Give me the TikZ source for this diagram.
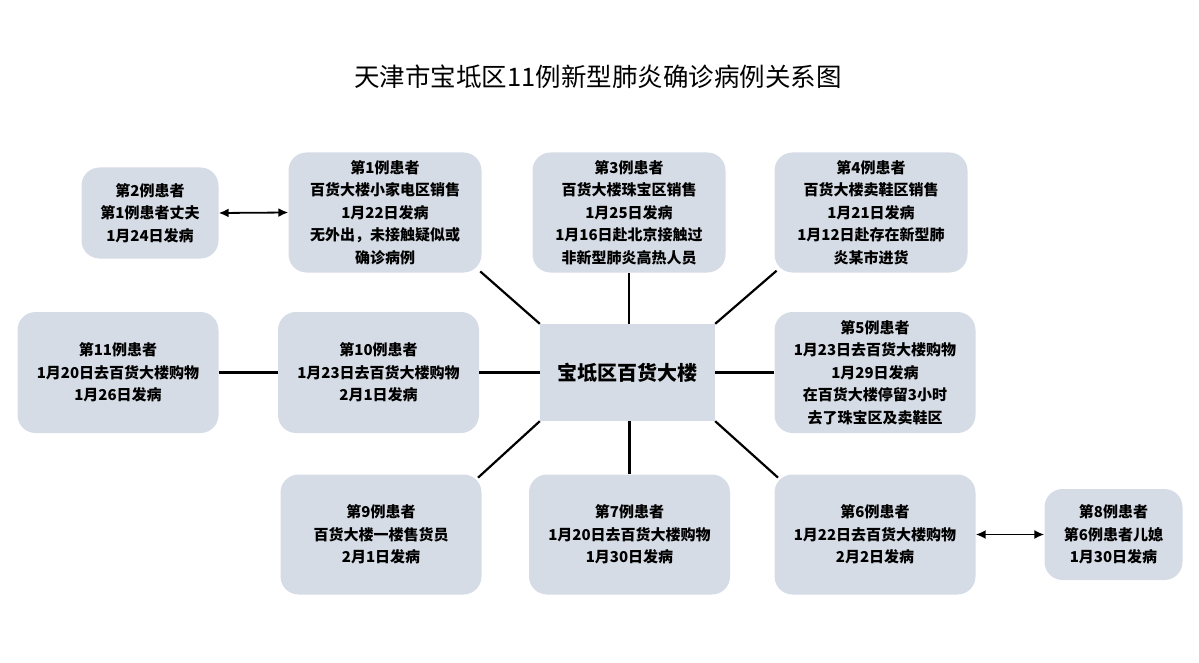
\documentclass[tikz,border=0pt]{standalone}
\usepackage{fontspec}
\setmainfont{Noto Sans CJK SC}
\usetikzlibrary{arrows.meta}
\definecolor{boxfill}{HTML}{D6DCE5}
\tikzset{
  casebox/.style={fill=boxfill, rounded corners=18pt, align=center, inner sep=0pt,
    font=\fontsize{15}{22.5}\selectfont\bfseries, text=black,
    execute at end node={\par\vspace*{-7pt}}},
  hubbox/.style={fill=boxfill, align=center, inner sep=0pt,
    font=\fontsize{20}{24}\selectfont\bfseries},
  link/.style={line width=2.2pt, black},
  dlink/.style={line width=1.8pt, black, {Latex[length=10pt,width=9pt]}-{Latex[length=10pt,width=9pt]}}
}
\begin{document}
\begin{tikzpicture}[x=1pt,y=-1pt]
\useasboundingbox (0,0) rectangle (1199,663);
\node[font=\fontsize{25.5}{28}\selectfont] (title) at (598,77) {天津市宝坻区11例新型肺炎确诊病例关系图};

\node[hubbox, minimum width=175pt, minimum height=97pt] (hub) at (627.5,372.5) {宝坻区百货大楼};

\node[casebox, minimum width=137pt, minimum height=91pt] (n2) at (150,213) {第2例患者\\第1例患者丈夫\\1月24日发病};
\node[casebox, minimum width=193pt, minimum height=120pt] (n1) at (385,212.5) {第1例患者\\百货大楼小家电区销售\\1月22日发病\\无外出，未接触疑似或\\确诊病例};
\node[casebox, minimum width=193pt, minimum height=120pt] (n3) at (629,212.5) {第3例患者\\百货大楼珠宝区销售\\1月25日发病\\1月16日赴北京接触过\\非新型肺炎高热人员};
\node[casebox, minimum width=193pt, minimum height=120pt] (n4) at (871,212.5) {第4例患者\\百货大楼卖鞋区销售\\1月21日发病\\1月12日赴存在新型肺\\炎某市进货};

\node[casebox, minimum width=201pt, minimum height=121pt] (n11) at (118,372.5) {第11例患者\\1月20日去百货大楼购物\\1月26日发病};
\node[casebox, minimum width=201pt, minimum height=121pt] (n10) at (378.5,372.5) {第10例患者\\1月23日去百货大楼购物\\2月1日发病};
\node[casebox, minimum width=201pt, minimum height=121pt] (n5) at (875,372.5) {第5例患者\\1月23日去百货大楼购物\\1月29日发病\\在百货大楼停留3小时\\去了珠宝区及卖鞋区};

\node[casebox, minimum width=201pt, minimum height=120pt] (n9) at (381,534.5) {第9例患者\\百货大楼一楼售货员\\2月1日发病};
\node[casebox, minimum width=201pt, minimum height=120pt] (n7) at (629.5,534.5) {第7例患者\\1月20日去百货大楼购物\\1月30日发病};
\node[casebox, minimum width=201pt, minimum height=120pt] (n6) at (875,534.5) {第6例患者\\1月22日去百货大楼购物\\2月2日发病};
\node[casebox, minimum width=138pt, minimum height=91pt] (n8) at (1113.5,534.5) {第8例患者\\第6例患者儿媳\\1月30日发病};

% connectors
\draw[link, shorten >=-2pt] (hub.north west) -- (n1.south east);
\draw[link] (hub.north -| n3.south) -- (n3.south);
\draw[link, shorten >=-3pt] (hub.north east) -- (n4.south west);
\draw[link] (hub.west) -- (n10.east);
\draw[link] (n11.east) -- (n10.west);
\draw[link] (hub.east) -- (n5.west);
\draw[link, shorten >=-5pt] (hub.south west) -- (n9.north east);
\draw[link] (hub.south -| n7.north) -- (n7.north);
\draw[link, shorten >=-5pt] (hub.south east) -- (n6.north west);
\draw[dlink] (n2.east) -- (n1.west);
\draw[dlink] (n6.east) -- (n8.west);
\end{tikzpicture}
\end{document}
